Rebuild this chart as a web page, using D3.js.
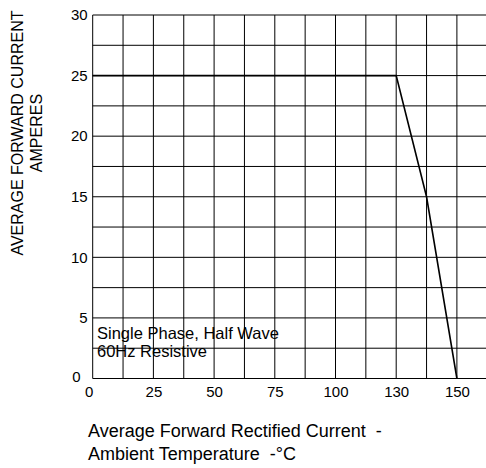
<!DOCTYPE html>
<html>
<head>
<meta charset="utf-8">
<script src="https://cdn.jsdelivr.net/npm/d3@7"></script>
<style>
  body { margin: 0; background: #fff; }
  text { font-family: "Liberation Sans", Arial, sans-serif; fill: #000; white-space: pre; }
</style>
</head>
<body>
<svg width="486" height="468"></svg>
<script>
// curve points (temperature in labelled degC, current in A)
const temps = [0, 130, 140, 150];
const amps = [25, 25, 15, 0];

const xTicks = [0, 25, 50, 75, 100, 130, 150];
const yTicks = [0, 5, 10, 15, 20, 25, 30];
const xBreaks = [0, 100, 130, 150];   // axis is not linear past 100
const columns = 13;                   // grid columns, the last one is cut off
const rows = 12;

const plotLeft = 92.7, plotTop = 15, plotBottom = 378.5;
const colW = 30.35;

const svg = d3.select("svg");

// piecewise scale so 100, 130, 150 sit where the drawing puts them
const x = d3.scaleLinear()
  .domain(xBreaks)
  .range([plotLeft, plotLeft + 8 * colW, plotLeft + 10 * colW, plotLeft + 12 * colW]);
const y = d3.scaleLinear().domain([0, 30]).range([plotBottom, plotTop]);
const col = d3.scaleLinear().domain([0, 12]).range([x(0), x(150)]);
const row = d3.scaleLinear().domain([0, rows]).range([plotBottom, plotTop]);

const grid = svg.append("g")
  .attr("stroke", "#000")
  .attr("stroke-width", 1);

grid.selectAll(".v")
  .data(d3.range(0, columns + 1))
  .enter()
  .append("line")
  .attr("x1", d => col(d))
  .attr("x2", d => col(d))
  .attr("y1", plotTop)
  .attr("y2", plotBottom);

grid.selectAll(".h")
  .data(d3.range(0, rows + 1))
  .enter()
  .append("line")
  .attr("x1", plotLeft)
  .attr("x2", col(columns))
  .attr("y1", d => row(d))
  .attr("y2", d => row(d));

const line = d3.line()
  .x((d, i) => x(d))
  .y((d, i) => y(amps[i]));

svg.append("path")
  .datum(temps)
  .attr("d", line)
  .attr("fill", "none")
  .attr("stroke", "#000")
  .attr("stroke-width", 1.6);

const yAxis = d3.axisLeft(y).tickValues(yTicks).tickSize(0).tickPadding(5);
svg.append("g")
  .attr("transform", "translate(" + plotLeft + ",0)")
  .call(yAxis)
  .call(g => g.select(".domain").remove())
  .selectAll("text")
  .attr("font-size", 15)
  .attr("font-family", "Liberation Sans, Arial, sans-serif")
  .attr("fill", "#000")
  .attr("x", d => d === 0 ? -12 : -5)
  .attr("dy", d => d === 0 ? "0.2em" : "0.32em");

const xAxis = d3.axisBottom(x)
  .tickValues(xTicks)
  .tickSize(0)
  .tickPadding(8)
  .tickFormat(d3.format("d"));
svg.append("g")
  .attr("transform", "translate(0," + plotBottom + ")")
  .call(xAxis)
  .call(g => g.select(".domain").remove())
  .selectAll("text")
  .attr("font-size", 15)
  .attr("font-family", "Liberation Sans, Arial, sans-serif")
  .attr("fill", "#000")
  .attr("dx", d => d === 0 ? -4 : 0);

// note inside the plot
svg.append("text")
  .attr("x", 97).attr("y", 339)
  .attr("font-size", 16.5)
  .text("Single Phase, Half Wave");
svg.append("text")
  .attr("x", 97).attr("y", 357)
  .attr("font-size", 16.5)
  .text("60Hz Resistive");

// y title
const yt = svg.append("text")
  .attr("transform", "translate(0,133) rotate(-90)")
  .attr("text-anchor", "middle")
  .attr("font-size", 16);
yt.append("tspan").attr("x", 0).attr("y", 23).text("AVERAGE FORWARD CURRENT");
yt.append("tspan").attr("x", 0).attr("y", 42).text("AMPERES");

// x title
svg.append("text")
  .attr("x", 88).attr("y", 437)
  .attr("font-size", 18)
  .text("Average Forward Rectified Current  -");
svg.append("text")
  .attr("x", 88).attr("y", 460)
  .attr("font-size", 18)
  .text("Ambient Temperature  -°C");
</script>
</body>
</html>
